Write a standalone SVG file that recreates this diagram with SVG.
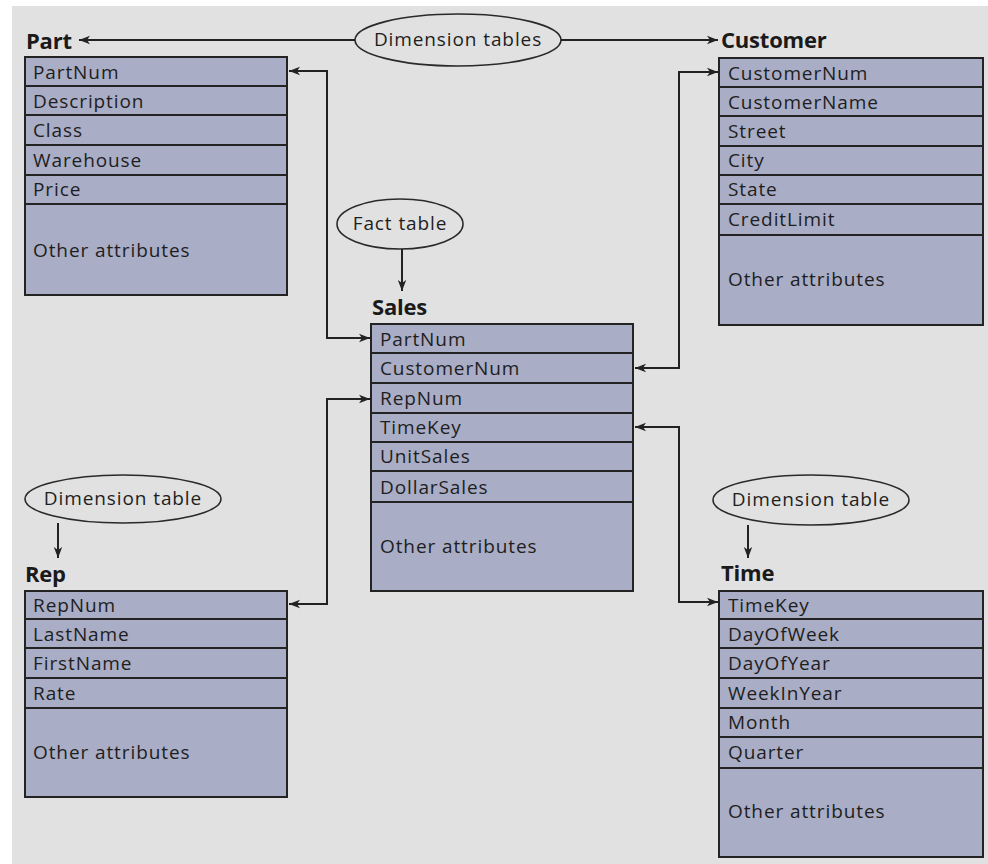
<svg xmlns="http://www.w3.org/2000/svg" width="988" height="864" viewBox="0 0 988 864">
  <style>
    .bg { fill: #e1e1e1; }
    .tbl { fill: #a9adc5; stroke: #232323; stroke-width: 2; }
    .row { stroke: #232323; stroke-width: 2; }
    .fld { font-family: "Open Sans", Lato, sans-serif; font-size: 19px; letter-spacing: 0.9px; fill: #1e1e1e; }
    .ttl { font-family: "Open Sans", Lato, sans-serif; font-size: 22px; font-weight: bold; letter-spacing: -0.2px; fill: #1a1a1a; }
    .lbl { fill: none; stroke: #2a2a2a; stroke-width: 1.6; }
    .ltx { font-family: "Open Sans", Lato, sans-serif; font-size: 19px; letter-spacing: 0.9px; fill: #1e1e1e; }
    .wire { fill: none; stroke: #222; stroke-width: 2; }
  </style>
  <defs>
    <marker id="arr" markerWidth="12" markerHeight="10" refX="11" refY="5" orient="auto-start-reverse" markerUnits="userSpaceOnUse">
      <path d="M0,0.8 L11,5 L0,9.2 L3,5 Z" fill="#222"/>
    </marker>
  </defs>

  <rect x="0" y="0" width="988" height="864" fill="#ffffff"/>
  <rect class="bg" x="12" y="6" width="976" height="858"/>

  <!-- Part dimension table -->
  <g id="part">
    <text class="ttl" x="26" y="49">Part</text>
    <rect class="tbl" x="25" y="57" width="262" height="238"/>
    <path class="row" d="M25 86H287M25 115H287M25 145H287M25 175H287M25 204H287"/>
    <text class="fld" x="33" y="79">PartNum</text>
    <text class="fld" x="33" y="108">Description</text>
    <text class="fld" x="33" y="137">Class</text>
    <text class="fld" x="33" y="167">Warehouse</text>
    <text class="fld" x="33" y="196">Price</text>
    <text class="fld" x="33" y="257">Other attributes</text>
  </g>

  <!-- Customer dimension table -->
  <g id="customer">
    <text class="ttl" x="721" y="48">Customer</text>
    <rect class="tbl" x="719" y="58" width="264" height="267"/>
    <path class="row" d="M719 87H983M719 116H983M719 146H983M719 175H983M719 204H983M719 235H983"/>
    <text class="fld" x="728" y="80">CustomerNum</text>
    <text class="fld" x="728" y="109">CustomerName</text>
    <text class="fld" x="728" y="138">Street</text>
    <text class="fld" x="728" y="167">City</text>
    <text class="fld" x="728" y="196">State</text>
    <text class="fld" x="728" y="226">CreditLimit</text>
    <text class="fld" x="728" y="286">Other attributes</text>
  </g>

  <!-- Sales fact table -->
  <g id="sales">
    <text class="ttl" x="372" y="315">Sales</text>
    <rect class="tbl" x="371" y="324" width="262" height="267"/>
    <path class="row" d="M371 353H633M371 383H633M371 413H633M371 442H633M371 471H633M371 502H633"/>
    <text class="fld" x="380" y="346">PartNum</text>
    <text class="fld" x="380" y="375">CustomerNum</text>
    <text class="fld" x="380" y="405">RepNum</text>
    <text class="fld" x="380" y="434">TimeKey</text>
    <text class="fld" x="380" y="463">UnitSales</text>
    <text class="fld" x="380" y="494">DollarSales</text>
    <text class="fld" x="380" y="553">Other attributes</text>
  </g>

  <!-- Rep dimension table -->
  <g id="rep">
    <text class="ttl" x="25" y="582">Rep</text>
    <rect class="tbl" x="25" y="591" width="262" height="206"/>
    <path class="row" d="M25 619H287M25 648H287M25 678H287M25 708H287"/>
    <text class="fld" x="33" y="612">RepNum</text>
    <text class="fld" x="33" y="641">LastName</text>
    <text class="fld" x="33" y="670">FirstName</text>
    <text class="fld" x="33" y="700">Rate</text>
    <text class="fld" x="33" y="759">Other attributes</text>
  </g>

  <!-- Time dimension table -->
  <g id="time">
    <text class="ttl" x="721" y="581">Time</text>
    <rect class="tbl" x="719" y="591" width="264" height="266"/>
    <path class="row" d="M719 619H983M719 648H983M719 678H983M719 708H983M719 737H983M719 768H983"/>
    <text class="fld" x="728" y="612">TimeKey</text>
    <text class="fld" x="728" y="641">DayOfWeek</text>
    <text class="fld" x="728" y="670">DayOfYear</text>
    <text class="fld" x="728" y="700">WeekInYear</text>
    <text class="fld" x="728" y="729">Month</text>
    <text class="fld" x="728" y="759">Quarter</text>
    <text class="fld" x="728" y="818">Other attributes</text>
  </g>

  <!-- Callout labels -->
  <g id="label-dimension-tables">
    <ellipse class="lbl" cx="458" cy="40" rx="103" ry="26"/>
    <text class="ltx" x="458" y="46" text-anchor="middle">Dimension tables</text>
  </g>
  <g id="label-fact-table">
    <ellipse class="lbl" cx="400" cy="224" rx="63" ry="25"/>
    <text class="ltx" x="400" y="230" text-anchor="middle">Fact table</text>
  </g>
  <g id="label-rep">
    <ellipse class="lbl" cx="123" cy="499" rx="98" ry="24"/>
    <text class="ltx" x="123" y="505" text-anchor="middle">Dimension table</text>
  </g>
  <g id="label-time">
    <ellipse class="lbl" cx="811" cy="500" rx="98" ry="25"/>
    <text class="ltx" x="811" y="506" text-anchor="middle">Dimension table</text>
  </g>

  <!-- Connectors -->
  <g id="connectors">
    <path class="wire" d="M355 40H79" marker-end="url(#arr)"/>
    <path class="wire" d="M561 40H718" marker-end="url(#arr)"/>
    <path class="wire" d="M402 249V291" marker-end="url(#arr)"/>
    <path class="wire" d="M58 523V558" marker-end="url(#arr)"/>
    <path class="wire" d="M748 525V558" marker-end="url(#arr)"/>
    <path class="wire" d="M289 71H327V338H370" marker-start="url(#arr)" marker-end="url(#arr)"/>
    <path class="wire" d="M289 604H327V399H370" marker-start="url(#arr)" marker-end="url(#arr)"/>
    <path class="wire" d="M718 72H679V368H635" marker-start="url(#arr)" marker-end="url(#arr)"/>
    <path class="wire" d="M635 427H679V602H718" marker-start="url(#arr)" marker-end="url(#arr)"/>
  </g>
</svg>
